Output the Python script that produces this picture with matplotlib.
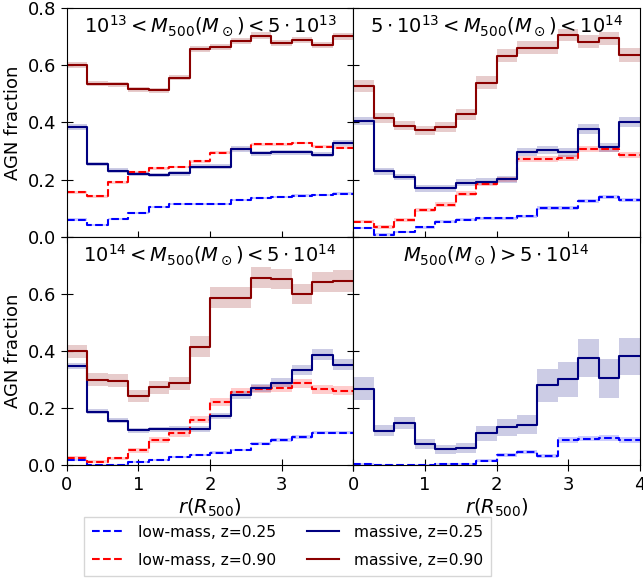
import numpy as np
import matplotlib
matplotlib.use("Agg")
import matplotlib.pyplot as plt

# radial bins in units of R500 (14 bins from 0 to 4)
r_edges = np.linspace(0, 4, 15)

titles = [r"$10^{13}<M_{500}(M_\odot)<5\cdot10^{13}$",
          r"$5\cdot10^{13}<M_{500}(M_\odot)<10^{14}$",
          r"$10^{14}<M_{500}(M_\odot)<5\cdot10^{14}$",
          r"$M_{500}(M_\odot)>5\cdot10^{14}$"]

# low-mass, z=0.25
low25 = [
    [0.060, 0.040, 0.061, 0.082, 0.105, 0.114, 0.114, 0.114, 0.128, 0.135, 0.138, 0.144, 0.145, 0.151],
    [0.029, 0.007, 0.015, 0.032, 0.052, 0.059, 0.065, 0.065, 0.071, 0.100, 0.100, 0.125, 0.138, 0.128],
    [0.019, 0.002, 0.002, 0.012, 0.019, 0.028, 0.036, 0.044, 0.053, 0.075, 0.088, 0.099, 0.114, 0.114],
    [0.005, 0.001, 0.000, 0.002, 0.004, 0.004, 0.016, 0.034, 0.046, 0.033, 0.089, 0.093, 0.094, 0.088],
]
low25_err = [
    [0.004, 0.004, 0.004, 0.004, 0.004, 0.004, 0.004, 0.004, 0.004, 0.004, 0.004, 0.004, 0.004, 0.004],
    [0.004, 0.004, 0.004, 0.004, 0.005, 0.005, 0.005, 0.005, 0.005, 0.006, 0.006, 0.007, 0.007, 0.007],
    [0.003, 0.002, 0.002, 0.003, 0.003, 0.004, 0.004, 0.004, 0.005, 0.005, 0.006, 0.006, 0.006, 0.006],
    [0.003, 0.002, 0.002, 0.002, 0.003, 0.003, 0.005, 0.007, 0.008, 0.007, 0.010, 0.010, 0.010, 0.010],
]

# low-mass, z=0.90
low90 = [
    [0.156, 0.142, 0.191, 0.225, 0.239, 0.244, 0.264, 0.294, 0.307, 0.324, 0.324, 0.328, 0.315, 0.311],
    [0.053, 0.034, 0.060, 0.092, 0.112, 0.151, 0.186, 0.201, 0.271, 0.272, 0.275, 0.307, 0.307, 0.286],
    [0.026, 0.012, 0.024, 0.052, 0.087, 0.111, 0.159, 0.222, 0.256, 0.266, 0.271, 0.286, 0.266, 0.261],
    None,
]
low90_err = [
    [0.005, 0.005, 0.005, 0.005, 0.005, 0.005, 0.005, 0.005, 0.005, 0.005, 0.005, 0.005, 0.005, 0.005],
    [0.006, 0.006, 0.007, 0.007, 0.008, 0.008, 0.009, 0.009, 0.010, 0.010, 0.010, 0.011, 0.011, 0.011],
    [0.006, 0.005, 0.006, 0.008, 0.010, 0.011, 0.013, 0.014, 0.015, 0.015, 0.016, 0.016, 0.016, 0.016],
    None,
]

# massive, z=0.25
mas25 = [
    [0.384, 0.255, 0.231, 0.220, 0.216, 0.222, 0.245, 0.245, 0.307, 0.292, 0.296, 0.296, 0.287, 0.328],
    [0.405, 0.229, 0.209, 0.169, 0.169, 0.189, 0.193, 0.201, 0.296, 0.304, 0.295, 0.378, 0.313, 0.402],
    [0.348, 0.187, 0.155, 0.122, 0.126, 0.128, 0.126, 0.172, 0.245, 0.269, 0.289, 0.332, 0.386, 0.352],
    [0.268, 0.121, 0.148, 0.073, 0.056, 0.059, 0.112, 0.133, 0.142, 0.279, 0.300, 0.375, 0.304, 0.381],
]
mas25_err = [
    [0.010, 0.008, 0.008, 0.008, 0.008, 0.008, 0.008, 0.008, 0.009, 0.009, 0.009, 0.009, 0.009, 0.010],
    [0.015, 0.012, 0.012, 0.011, 0.011, 0.012, 0.012, 0.012, 0.015, 0.015, 0.015, 0.018, 0.016, 0.018],
    [0.010, 0.009, 0.009, 0.009, 0.009, 0.010, 0.010, 0.011, 0.013, 0.014, 0.015, 0.017, 0.019, 0.018],
    [0.041, 0.020, 0.022, 0.018, 0.016, 0.017, 0.026, 0.030, 0.033, 0.058, 0.060, 0.065, 0.068, 0.065],
]

# massive, z=0.90
mas90 = [
    [0.601, 0.536, 0.533, 0.516, 0.512, 0.556, 0.656, 0.664, 0.684, 0.704, 0.678, 0.689, 0.672, 0.701],
    [0.527, 0.416, 0.389, 0.372, 0.385, 0.429, 0.539, 0.634, 0.662, 0.662, 0.706, 0.682, 0.694, 0.635],
    [0.398, 0.299, 0.296, 0.241, 0.272, 0.286, 0.415, 0.586, 0.586, 0.656, 0.651, 0.598, 0.641, 0.645],
    None,
]
mas90_err = [
    [0.009, 0.008, 0.008, 0.008, 0.008, 0.009, 0.010, 0.010, 0.010, 0.011, 0.010, 0.011, 0.011, 0.011],
    [0.020, 0.018, 0.017, 0.017, 0.018, 0.019, 0.022, 0.024, 0.024, 0.024, 0.022, 0.023, 0.024, 0.025],
    [0.024, 0.022, 0.022, 0.021, 0.022, 0.024, 0.038, 0.037, 0.037, 0.036, 0.036, 0.035, 0.036, 0.038],
    None,
]

series = [
    ("low-mass, z=0.25", low25, low25_err, "blue", "--"),
    ("low-mass, z=0.90", low90, low90_err, "red", "--"),
    ("massive, z=0.25", mas25, mas25_err, "navy", "-"),
    ("massive, z=0.90", mas90, mas90_err, "darkred", "-"),
]

xticks = [0, 1, 2, 3, 4]
yticks = [0.0, 0.2, 0.4, 0.6, 0.8]

fig, axes = plt.subplots(2, 2, figsize=(6.43, 5.8), dpi=100)
fig.subplots_adjust(left=0.104, right=0.995, top=0.986, bottom=0.198, hspace=0, wspace=0)

handles = []
for i, ax in enumerate(axes.flat):
    for label, vals, errs, col, ls in series:
        if vals[i] is None:
            continue
        v = np.array(vals[i] + [vals[i][-1]])
        e = np.array(errs[i] + [errs[i][-1]])
        ax.fill_between(r_edges, v - e, v + e, step="post", color=col, alpha=0.2, lw=0)
        ln, = ax.step(r_edges, v, where="post", color=col, ls=ls, lw=1.5, label=label)
        if i == 0:
            handles.append(ln)
    ax.text(0.5, 0.975, titles[i], transform=ax.transAxes, ha="center", va="top", fontsize=14)
    ax.set_xlim(0, 4)
    ax.set_ylim(0, 0.8)
    ax.set_xticks(xticks)
    ax.set_yticks(yticks)
    ax.tick_params(direction="inout", length=8, labelsize=13)

# hide inner tick labels
for ax in axes[0, :]:
    ax.set_xticklabels([])
for ax in axes[:, 1]:
    ax.set_yticklabels([])
axes[1, 0].set_xticklabels(["0", "1", "2", "3", ""])
axes[1, 0].set_yticklabels(["0.0", "0.2", "0.4", "0.6", ""])

axes[0, 0].set_ylabel("AGN fraction", fontsize=13)
axes[1, 0].set_ylabel("AGN fraction", fontsize=13)
axes[1, 0].set_xlabel(r"$r(R_{500})$", fontsize=14, labelpad=2)
axes[1, 1].set_xlabel(r"$r(R_{500})$", fontsize=14, labelpad=2)

fig.legend(handles=handles, loc="upper center", bbox_to_anchor=(0.447, 0.109), ncol=2,
           fontsize=11.2, fancybox=False, edgecolor="0.8", columnspacing=2.0,
           labelspacing=0.85, handletextpad=1.0, borderpad=0.5, borderaxespad=0)

fig.savefig("out.png", dpi=100)
